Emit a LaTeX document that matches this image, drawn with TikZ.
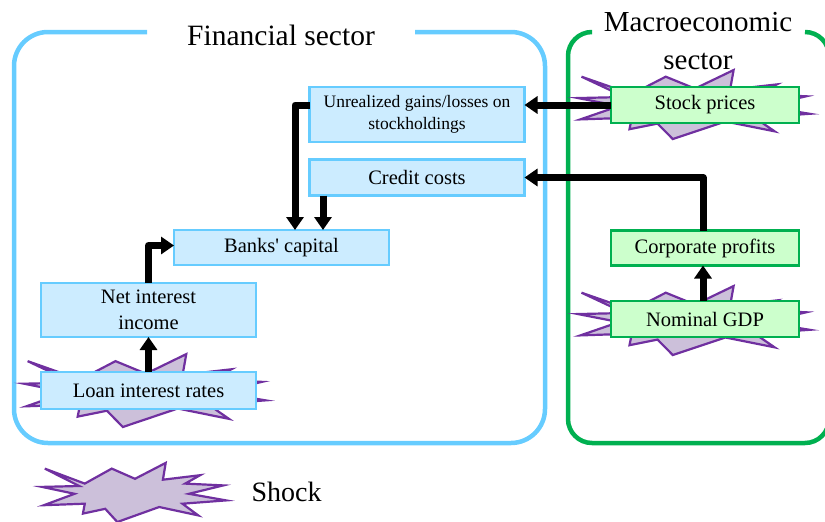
\documentclass[tikz,border=0pt]{standalone}
\usepackage{fontspec}
\setmainfont{Liberation Serif}
\usetikzlibrary{arrows.meta}

\definecolor{finline}{HTML}{66CCFF}
\definecolor{finfill}{HTML}{CCECFF}
\definecolor{macline}{HTML}{00B050}
\definecolor{macfill}{HTML}{CCFFCC}
\definecolor{shockline}{HTML}{7030A0}
\definecolor{shockfill}{HTML}{CCC0DA}

\tikzset{
  finbox/.style={draw=finline, fill=finfill, line width=2.5pt, inner sep=0pt, outer sep=0pt,
    minimum width=215pt, align=center, font=\fontsize{20.5}{26}\selectfont},
  macbox/.style={draw=macline, fill=macfill, line width=2.5pt, inner sep=0pt, outer sep=0pt,
    minimum width=188pt, minimum height=36pt, align=center, font=\fontsize{20.5}{26}\selectfont},
  link/.style={line width=7pt, line join=round, -{Triangle[width=17pt,length=13pt]}},
  title/.style={align=center, font=\fontsize{29.5}{38}\selectfont},
  shockstar/.pic={
    \draw[shockline, fill=shockfill, line width=2.2pt, line join=miter]
      (-0.97,-0.78) -- (-0.54,-0.28) -- (-0.25,-0.78) -- (0,-0.44) -- (0.33,-0.97)
      -- (0.30,-0.41) -- (0.70,-0.56) -- (0.54,-0.28) -- (0.95,-0.22) -- (0.58,0.06)
      -- (0.98,0.28) -- (0.51,0.39) -- (0.68,0.78) -- (0.26,0.5) -- (-0.19,1.0)
      -- (-0.32,0.56) -- (-0.56,0.72) -- (-0.54,0.39) -- (-0.98,0.44) -- (-0.65,0.06)
      -- (-1,-0.17) -- (-0.6,-0.2) -- cycle;
  }
}

\begin{document}
\begin{tikzpicture}[x=1pt, y=-1pt]
\useasboundingbox (0,0) rectangle (825,522);

% sector frames, open at the top for the titles
\draw[finline, line width=4.5pt, rounded corners=34pt]
  (147,32) -- (14,32) -- (14,443) -- (545,443) -- (545,32) -- (415,32);
\draw[macline, line width=4.5pt, rounded corners=24pt]
  (591,32) -- (568,32) -- (568,443) -- (829,443) -- (829,32) -- (805,32);
\node[title] (fintitle) at (281,35) {Financial sector};
\node[title, font=\fontsize{29}{38}\selectfont] (mactitle) at (698,41) {Macroeconomic\\sector};

% shocks
\pic[xscale=122, yscale=37] at (146,390) {shockstar};
\pic[xscale=117, yscale=35] at (695,104) {shockstar};
\pic[xscale=117, yscale=35] at (695,320) {shockstar};

% financial sector
\node[finbox, minimum height=55pt, font=\fontsize{17.5}{22}\selectfont] (unreal) at (417,114.5)
  {Unrealized gains/losses on\\stockholdings};
\node[finbox, minimum height=36pt] (credit) at (417,177.5) {Credit costs};
\node[finbox, minimum height=35pt] (banks) at (281.5,247.5) {Banks\textquotesingle\ capital};
\node[finbox, minimum height=54pt] (net) at (148.5,310) {Net interest\\income};
\node[finbox, minimum height=37pt] (loan) at (148.5,390.5) {Loan interest rates};

% macroeconomic sector
\node[macbox] (stock) at (705,105) {Stock prices};
\node[macbox, minimum height=35pt] (corp) at (705,248) {Corporate profits};
\node[macbox] (gdp) at (705,319) {Nominal GDP};

% links
\draw[link] (loan.north) -- (net.south);
\draw[link] (net.north) |- ([yshift=2pt]banks.west);
\draw[link] ([yshift=9.5pt]unreal.west) -| ([xshift=13.5pt]banks.north);
\draw[link] ([xshift=-94pt]credit.south) -- ([xshift=-94pt]credit.south |- banks.north);
\draw[link] (stock.west) -- (stock.west -| unreal.east);
\draw[link] ([xshift=-2pt]corp.north) |- (credit.east);
\draw[link] ([xshift=-2pt]gdp.north) -- ([xshift=-2pt]corp.south);

% legend
\pic[xscale=93, yscale=30] at (135,492) {shockstar};
\node[font=\fontsize{28}{32}\selectfont, anchor=west] (shocklabel) at (248,492) {Shock};
\end{tikzpicture}
\end{document}
